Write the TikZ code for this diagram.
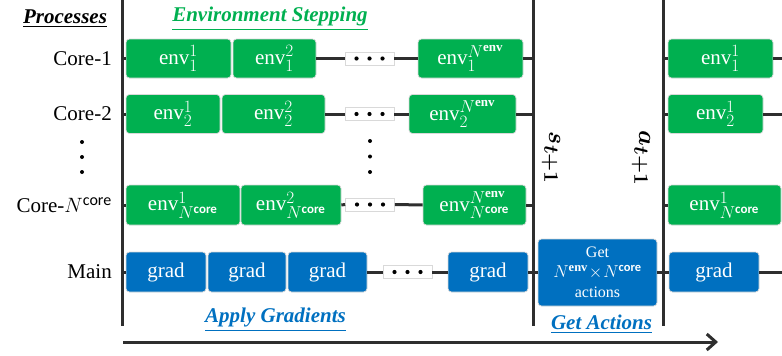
\documentclass[tikz,border=0pt]{standalone}
\usepackage{amsmath}
\usepackage{bm}
\usepackage{graphicx}
\usepackage{fontspec}
\setmainfont{Liberation Serif}
\setsansfont{Carlito}
\usetikzlibrary{arrows.meta}

% larger script sizes for the box labels
\DeclareMathSizes{21}{21}{16}{13}
\DeclareMathSizes{16}{16}{12.5}{10}
\DeclareMathSizes{27}{27}{20}{15}

\definecolor{envgreen}{HTML}{00B050}
\definecolor{gradblue}{HTML}{0070C0}
\definecolor{linkgray}{HTML}{2E2E2E}

\newcommand\corelbl{\textsf{\bfseries core}}
\newcommand\envlbl{\textbf{env}}

\tikzset{
  envbox/.style={fill=envgreen, draw=black!15, line width=0.7pt, rounded corners=3.5pt,
    text=white, minimum height=39pt, inner sep=0pt, font=\fontsize{21}{24}\selectfont},
  gradbox/.style={envbox, fill=gradblue, minimum height=40pt},
  dotbox/.style={draw=black!15, fill=white, line width=0.7pt, minimum width=49pt,
    minimum height=13pt, inner sep=0pt,
    path picture={\foreach \dx in {-13,0,13}
      \fill[black] ([xshift=\dx pt]path picture bounding box.center) circle (2.1pt);}},
  link/.style={draw=linkgray, line width=3pt},
  rowlbl/.style={anchor=east, inner sep=0pt, font=\fontsize{21}{24}\selectfont},
  hdr/.style={inner sep=0pt, font=\fontsize{21}{24}\selectfont\bfseries\itshape},
  vdot/.style={circle, fill=black, inner sep=0pt, minimum size=4pt},
  vlabel/.style={inner sep=0pt, font=\fontsize{27}{30}\selectfont},
}

\begin{document}
\begin{tikzpicture}[x=1pt, y=-1pt]
\useasboundingbox (0,0) rectangle (782,356);

% phase boundaries and time axis
\coordinate (v1top) at (122,0);   \coordinate (v1bot) at (122,326);
\coordinate (v2top) at (533,0);   \coordinate (v2bot) at (533,326);
\coordinate (v3top) at (663,0);   \coordinate (v3bot) at (663,326);
\coordinate (edge) at (782,0);
\coordinate (tstart) at (123,342); \coordinate (tend) at (718,342);
\draw[link] (v1top) -- (v1bot);
\draw[link] (v2top) -- (v2bot);
\draw[link] (v3top) -- (v3bot);
\draw[link, -{Straight Barb[length=9pt,width=16pt]}] (tstart) -- (tend);

% process labels
\node[hdr, text=black] (proc) at (65,19) {\underline{Processes}};
\node[rowlbl] (c1) at (112,58.5) {Core-1};
\node[rowlbl] (c2) at (112,114) {Core-2};
\node[rowlbl] (cn) at (112,205) {Core-$N^{\textsf{core}}$};
\node[rowlbl] (mainlbl) at (112,272) {Main};
\node[vdot] (ld1) at (82,142) {};
\node[vdot] (ld2) at (82,157) {};
\node[vdot] (ld3) at (82,172) {};

% phase titles
\node[hdr, text=envgreen] (hstep) at (270,19) {\underline{Environment Stepping}};
\node[hdr, text=gradblue] (hgrad) at (275.5,320) {\underline{Apply Gradients}};
\node[hdr, text=gradblue] (hact) at (601.5,324) {\underline{Get Actions}};

% row 1
\node[envbox, minimum width=105pt] (r1a) at (178.5,58.5) {env$^{1}_{1}$};
\node[envbox, minimum width=83pt]  (r1b) at (274.5,58.5) {env$^{2}_{1}$};
\node[dotbox] (r1d) at (369.5,58.5) {};
\node[envbox, minimum width=105pt] (r1n) at (470.5,58.5) {env$^{N^{\envlbl}}_{1}$};
\node[envbox, minimum width=105pt] (r1r) at (720.5,58.5) {env$^{1}_{1}$};

% row 2
\node[envbox, minimum width=94pt]  (r2a) at (173,114) {env$^{1}_{2}$};
\node[envbox, minimum width=103pt] (r2b) at (273.5,114) {env$^{2}_{2}$};
\node[dotbox] (r2d) at (369.5,114) {};
\node[envbox, minimum width=107pt] (r2n) at (462.5,114) {env$^{N^{\envlbl}}_{2}$};
\node[envbox, minimum width=95pt]  (r2r) at (715.5,114) {env$^{1}_{2}$};

\node[vdot] (md1) at (370,141) {};
\node[vdot] (md2) at (370,156.5) {};
\node[vdot] (md3) at (370,172) {};

% row N
\node[envbox, minimum height=40pt, minimum width=114pt] (r3a) at (183,205) {env$^{1}_{N^{\corelbl}}$};
\node[envbox, minimum height=40pt, minimum width=100pt] (r3b) at (291,205) {env$^{2}_{N^{\corelbl}}$};
\node[dotbox] (r3d) at (370,204.5) {};
\node[envbox, minimum height=40pt, minimum width=103pt] (r3n) at (474.5,205) {env$^{N^{\envlbl}}_{N^{\corelbl}}$};
\node[envbox, minimum height=40pt, minimum width=113pt] (r3r) at (724.5,205) {env$^{1}_{N^{\corelbl}}$};

% main process
\node[gradbox, minimum width=80pt] (g1) at (166,272) {grad};
\node[gradbox, minimum width=78pt] (g2) at (247,272) {grad};
\node[gradbox, minimum width=79pt] (g3) at (327.5,272) {grad};
\node[dotbox] (r4d) at (407.5,272) {};
\node[gradbox, minimum width=80pt] (g4) at (488,272) {grad};
\node[gradbox, minimum width=119pt, minimum height=67pt, align=center,
      font=\fontsize{16}{20}\selectfont] (get) at (597.5,272.5)
      {Get\\$N^{\envlbl}\!\times\! N^{\corelbl}$\\actions};
\node[gradbox, minimum width=90pt] (g5) at (714,272) {grad};

% state / action labels, read top to bottom
\node[vlabel] (st) at (551,158) {\rotatebox{-90}{$\bm{s_{t+1}}$}};
\node[vlabel] (at) at (641,158) {\rotatebox{-90}{$\bm{a_{t+1}}$}};

% connectors
\draw[link] (r1a.west -| v1top) -- (r1a.west);
\draw[link] (r1b.east) -- (r1d.west);
\draw[link] (r1d.east) -- (r1n.west);
\draw[link] (r1n.east) -- (r1n.east -| v2top);
\draw[link] (r1r.west -| v3top) -- (r1r.west);
\draw[link] (r1r.east) -- (r1r.east -| edge);

\draw[link] (r2a.west -| v1top) -- (r2a.west);
\draw[link] (r2b.east) -- (r2d.west);
\draw[link] (r2d.east) -- (r2n.west);
\draw[link] (r2n.east) -- (r2n.east -| v2top);
\draw[link] (r2r.west -| v3top) -- (r2r.west);
\draw[link] (r2r.east) -- (r2r.east -| edge);

\draw[link] (r3a.west -| v1top) -- (r3a.west);
\draw[link] (r3b.east) -- (r3d.west);
\draw[link] (r3d.east) -- (r3n.west);
\draw[link] (r3n.east) -- (r3n.east -| v2top);
\draw[link] (r3r.west -| v3top) -- (r3r.west);

\draw[link] (g1.west -| v1top) -- (g1.west);
\draw[link] (g3.east) -- (r4d.west);
\draw[link] (r4d.east) -- (g4.west);
\draw[link] (g4.east) -- (g4.east -| v2top);
\draw[link] (get.west -| v2top) -- (get.west);
\draw[link] (get.east) -- (get.east -| v3top);
\draw[link] (g5.west -| v3top) -- (g5.west);
\draw[link] (g5.east) -- (g5.east -| edge);
\end{tikzpicture}
\end{document}
